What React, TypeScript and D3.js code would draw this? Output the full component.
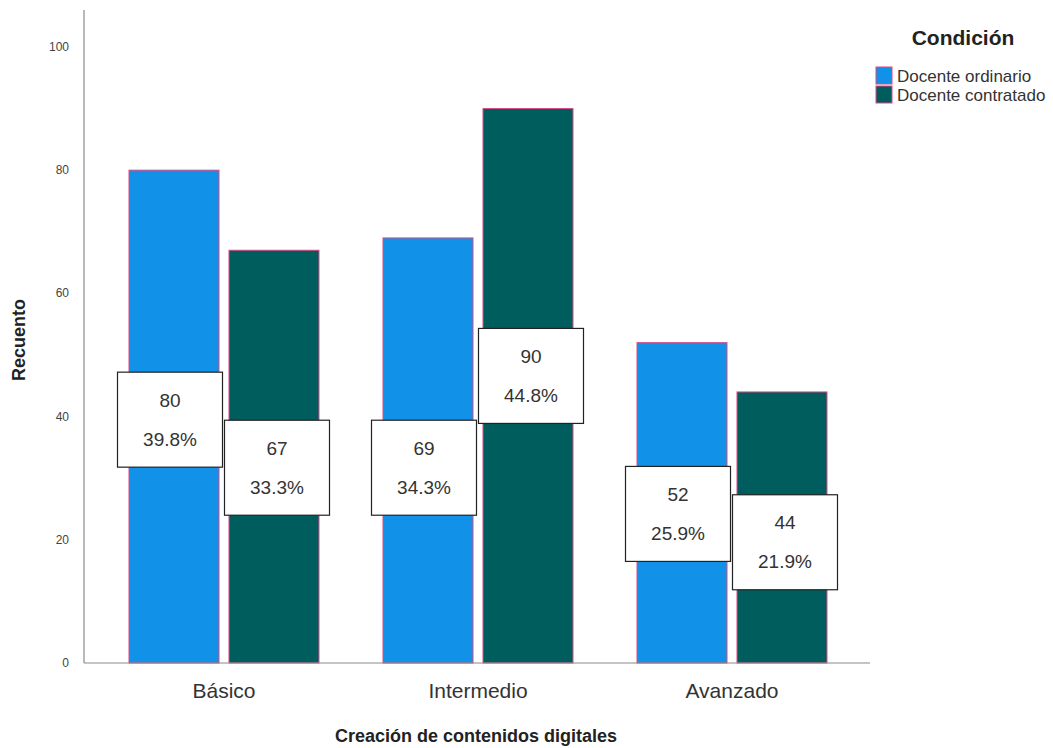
import React from "react";
import * as d3 from "d3";

const categories = ["Básico", "Intermedio", "Avanzado"];
const seriesNames = ["Docente ordinario", "Docente contratado"];
const ordinario = [80, 69, 52];
const contratado = [67, 90, 44];
const ordinarioPct = ["39.8%", "34.3%", "25.9%"];
const contratadoPct = ["33.3%", "44.8%", "21.9%"];
// label box vertical centres, in data units (as placed in the picture)
const ordinarioLabelAt = [39.5, 31.7, 24.2];
const contratadoLabelAt = [31.7, 46.6, 19.6];
const yTicks = [0, 20, 40, 60, 80, 100];
const colors = ["#1192e8", "#005d5d"];

export default function App() {
  const W = 1053, H = 748;
  const x0 = d3.scaleBand<string>().domain(categories).range([97, 859]).paddingInner(0.252).paddingOuter(0.126);
  const x1 = d3.scaleBand<string>().domain(seriesNames).range([0, x0.bandwidth()]).paddingInner(0.1);
  const y = d3.scaleLinear().domain([0, 106]).range([663, 10]);

  const series = [
    { name: seriesNames[0], values: ordinario, pct: ordinarioPct, at: ordinarioLabelAt, dx: -4 },
    { name: seriesNames[1], values: contratado, pct: contratadoPct, at: contratadoLabelAt, dx: 3 },
  ];
  const boxW = 105, boxH = 95;
  const font = "'Liberation Sans', Arial, sans-serif";

  return (
    <svg width={W} height={H} style={{ position: "absolute", left: 0, top: 0, background: "#fff" }} fontFamily={font}>
      {/* bars */}
      {series.map((s, si) =>
        categories.map((c, ci) => (
          <rect key={`b${si}${ci}`} x={(x0(c) as number) + (x1(s.name) as number)} y={y(s.values[ci])}
            width={x1.bandwidth()} height={y(0) - y(s.values[ci])} fill={colors[si]} stroke="#d84a86" strokeWidth={1} />
        ))
      )}
      {/* axes */}
      <line x1={84} x2={84} y1={y(106)} y2={y(0)} stroke="#8a8a8a" strokeWidth={1.2} />
      <line x1={84} x2={870} y1={y(0)} y2={y(0)} stroke="#8a8a8a" strokeWidth={1.2} />
      {yTicks.map((t) => (
        <text key={t} x={69} y={y(t) + 4} textAnchor="end" fontSize={12} fill="#444">{t}</text>
      ))}
      {categories.map((c) => (
        <text key={c} x={(x0(c) as number) + x0.bandwidth() / 2} y={698} textAnchor="middle" fontSize={21} fill="#333">{c}</text>
      ))}
      {/* label boxes */}
      {series.map((s, si) =>
        categories.map((c, ci) => {
          const cx = (x0(c) as number) + (x1(s.name) as number) + x1.bandwidth() / 2 + s.dx;
          const cy = y(s.at[ci]);
          return (
            <g key={`l${si}${ci}`}>
              <rect x={cx - boxW / 2} y={cy - boxH / 2} width={boxW} height={boxH} fill="#fff" stroke="#222" strokeWidth={1.2} />
              <text x={cx} y={cy - 13} textAnchor="middle" fontSize={19} fill="#333">{s.values[ci]}</text>
              <text x={cx} y={cy + 26} textAnchor="middle" fontSize={19} fill="#333">{s.pct[ci]}</text>
            </g>
          );
        })
      )}
      {/* axis titles */}
      <text x={476} y={742} textAnchor="middle" fontSize={18} fontWeight="bold" fill="#222">Creación de contenidos digitales</text>
      <text transform={`translate(25,340) rotate(-90)`} textAnchor="middle" fontSize={18} fontWeight="bold" fill="#222">Recuento</text>
      {/* legend */}
      <text x={963} y={45} textAnchor="middle" fontSize={21} fontWeight="bold" fill="#222">Condición</text>
      {seriesNames.map((n, i) => (
        <g key={n}>
          <rect x={876} y={67 + i * 19} width={16} height={17} fill={colors[i]} stroke="#d84a86" strokeWidth={1} />
          <text x={897} y={82 + i * 19} fontSize={17} fill="#333">{n}</text>
        </g>
      ))}
    </svg>
  );
}
